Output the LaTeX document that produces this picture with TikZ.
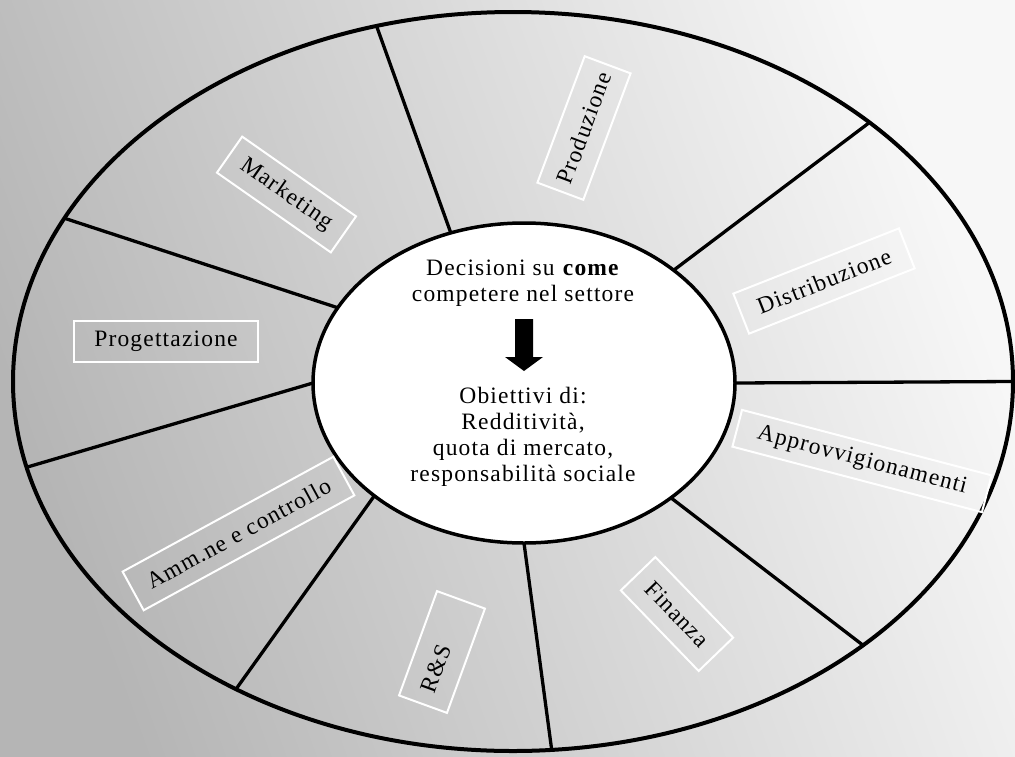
\documentclass[tikz,border=0pt]{standalone}
\usepackage{fontspec}
\setmainfont{Liberation Serif}[LetterSpace=5]
\usetikzlibrary{shapes.geometric}
\definecolor{bgLight}{gray}{0.97}
\definecolor{bgDark}{gray}{0.71}
\begin{document}
\begin{tikzpicture}[x=1pt,y=-1pt,
  rimline/.style={line width=4pt},
  spoke/.style={line width=3.3pt},
  area/.style={draw=white, line width=2pt, inner sep=0pt, text=black,
    font=\fontsize{23.5}{27}\selectfont},
  coretext/.style={align=center, inner sep=0pt, font=\fontsize{23.5}{26}\selectfont}]
\useasboundingbox (0,0) rectangle (1015,756);
% background
\shade[top color=bgLight, bottom color=bgDark, shading angle=-70] (0,0) rectangle (1015,756);

% outer ring and central ellipse
\node[ellipse, draw, rimline, outer sep=0pt, inner sep=0pt,
      minimum width=1000pt, minimum height=739pt] (rim) at (513,381.5) {};
\node[ellipse, draw, fill=white, line width=3.5pt, outer sep=0pt, inner sep=0pt,
      minimum width=422pt, minimum height=320pt] (core) at (524,383) {};

% sector dividers
\draw[spoke] (core.116.9) -- (rim.111.4);
\draw[spoke] (core.158.9) -- (rim.160.1);
\draw[spoke] (core.180)   -- (rim.190.1);
\draw[spoke] (core.217.9) -- (rim.228.7);
\draw[spoke] (core.270)   -- (rim.276.3);
\draw[spoke] (core.322.2) -- (rim.323.6);
\draw[spoke] (core.0)     -- (rim.0);
\draw[spoke] (core.37.9)  -- (rim.36.1);

% central text
\node[coretext] (decide) at (523,283) {Decisioni su \textbf{come}\\competere nel settore};
\node[coretext] (goals) at (523,437) {Obiettivi di:\\Redditività,\\quota di mercato,\\responsabilità sociale};
\coordinate (arrowtop) at (524,319);
\fill (arrowtop) ++(-9,0) -- ++(18,0) -- ++(0,38) -- ++(10,0) -- ++(-19,14)
      -- ++(-19,-14) -- ++(10,0) -- cycle;

% sector labels
\node[area, rotate=-35, minimum width=139pt, minimum height=44pt] (mkt) at (286.5,194.5) {Marketing};
\node[area, rotate=69.5, minimum width=135pt, minimum height=49pt] (prod) at (584,128) {Produzione};
\node[area, rotate=21.5, minimum width=178pt, minimum height=43pt] (dist) at (824,281) {Distribuzione};
\node[area, rotate=-14.7, minimum width=258pt, minimum height=38pt] (supply) at (862,461) {Approvvigionamenti};
\node[area, rotate=-46, minimum width=112pt, minimum height=48pt] (fin) at (677,614) {Finanza};
\node[area, rotate=70, minimum width=111pt, minimum height=51pt, text width=85pt, align=left] (rs) at (442,652) {R\&S};
\node[area, rotate=28.6, minimum width=240pt, minimum height=44pt] (adm) at (238.5,533.5) {Amm.ne e controllo};
\node[area, minimum width=184pt, minimum height=41pt] (design) at (166,341.5) {Progettazione};
\end{tikzpicture}
\end{document}
